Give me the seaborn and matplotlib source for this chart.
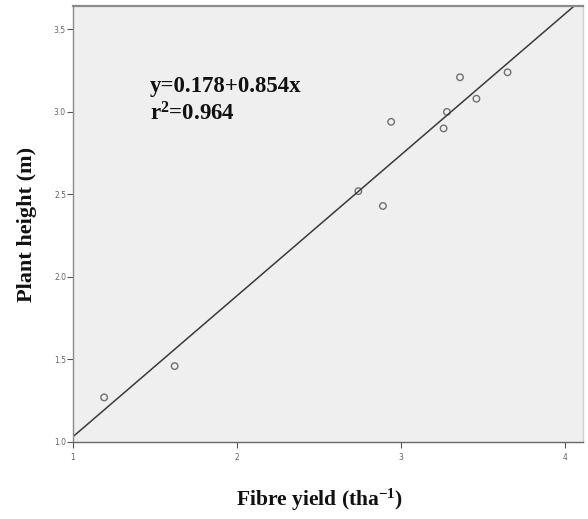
import numpy as np
import pandas as pd
import matplotlib
matplotlib.use("Agg")
import matplotlib.pyplot as plt
import seaborn as sns

# Observations: fibre yield (t/ha) and plant height (m)
fibre_yield = [1.19, 1.62, 2.74, 2.89, 2.94, 3.26, 3.28, 3.36, 3.46, 3.65]
plant_height = [1.27, 1.46, 2.52, 2.43, 2.94, 2.90, 3.00, 3.21, 3.08, 3.24]

# Fitted regression coefficients
intercept = 0.178
slope = 0.854
r_squared = 0.964

x_ticks = [1, 2, 3, 4]
y_ticks = [1.0, 1.5, 2.0, 2.5, 3.0, 3.5]

sns.set_style("white")
plt.rcParams["mathtext.fontset"] = "custom"
plt.rcParams["mathtext.rm"] = "Liberation Serif:bold"
plt.rcParams["mathtext.bf"] = "Liberation Serif:bold"
plt.rcParams["mathtext.it"] = "Liberation Serif:bold"

fig = plt.figure(figsize=(5.88, 5.19), dpi=100)
ax = fig.add_axes([0.1241, 0.1484, 0.8674, 0.8401])
ax.set_facecolor("#efefef")

xmin, xmax = 1.0, 4.11
ymin, ymax = 1.0, 3.642

df = pd.DataFrame({"x": fibre_yield, "y": plant_height})
fit_x = np.array([xmin, xmax])
fit = pd.DataFrame({"x": fit_x, "y": intercept + slope * fit_x})

sns.lineplot(data=fit, x="x", y="y", ax=ax, color="#3a3a3a", linewidth=1.1)
sns.scatterplot(data=df, x="x", y="y", ax=ax, marker="o", s=22,
                facecolor="none", edgecolor="#707070", linewidth=1.0)

ax.set_xlim(xmin, xmax)
ax.set_ylim(ymin, ymax)
ax.set_xticks(x_ticks)
ax.set_xticklabels([str(t) for t in x_ticks])
ax.set_yticks(y_ticks)
ax.set_yticklabels([f"{t:.1f}" for t in y_ticks])
ax.tick_params(axis="both", which="major", direction="out", length=4,
               width=0.8, color="#555555", labelsize=5.5, labelcolor="#666666")
ax.tick_params(axis="x", bottom=True, pad=4)
ax.tick_params(axis="y", left=True, pad=1)

for name, sp in ax.spines.items():
    sp.set_visible(True)
    sp.set_color("#8a8a8a")
    sp.set_linewidth(1.0)
ax.spines["bottom"].set_color("#666666")
ax.spines["top"].set_linewidth(1.6)
ax.spines["right"].set_color("#cfcfcf")

serif = ["Liberation Serif", "DejaVu Serif"]
label_font = dict(family=serif, fontweight="bold", fontsize=16, color="#111111")
ax.set_xlabel("Fibre yield (tha$^{-1}$)", fontfamily=serif, fontweight="bold",
              fontsize=15.5, color="#111111")
ax.xaxis.set_label_coords(0.483, -0.102)
ax.set_ylabel("Plant height (m)", **label_font)
ax.yaxis.set_label_coords(-0.07, 0.5)

eq_font = dict(family=serif, fontweight="bold", fontsize=16.5, color="#111111",
               va="center", ha="left", transform=ax.transAxes)
ax.text(0.151, 0.815, f"y={intercept:.3f}+{slope:.3f}x", **eq_font)
ax.text(0.151, 0.752, f"r$^{{2}}$={r_squared:.3f}", **eq_font)

fig.savefig("out.png", dpi=100, facecolor="white")
